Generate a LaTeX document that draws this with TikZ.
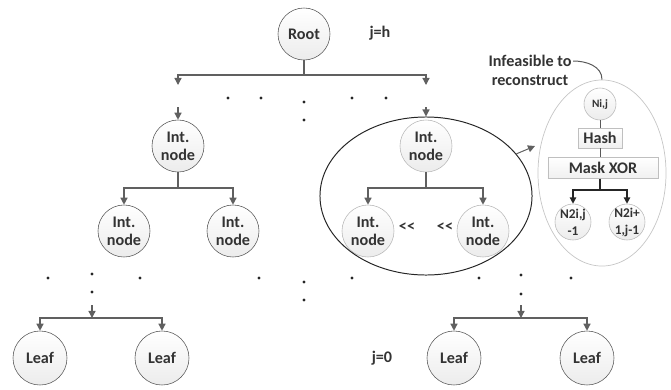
\documentclass[tikz,border=0pt]{standalone}
\usepackage{fontspec}
\setmainfont{Carlito}
\usetikzlibrary{arrows.meta}
\usetikzlibrary{shapes}
\tikzset{tnode/.style={circle,draw=gray!70!black,top color=white,bottom color=gray!15,
   minimum size=1.3cm,inner sep=0pt,align=center,text=black!80,
   font=\fontsize{11.5}{13}\selectfont\bfseries},
 faint/.style={draw=gray!55},
 subnode/.style={tnode,faint,minimum size=0.9cm,inner sep=-2pt,
   font=\fontsize{9.5}{12}\selectfont\bfseries},
 opbox/.style={rectangle,draw=gray!50,top color=white,bottom color=gray!12,
   inner sep=0pt,minimum height=0.5cm,text=black!80,
   font=\fontsize{11.5}{13}\selectfont\bfseries},
 tag/.style={text=black!80,inner sep=1pt,align=center,
   font=\fontsize{11.5}{13.5}\selectfont\bfseries},
 link/.style={draw=gray!75!black,line width=0.9pt},
 arr/.style={link,-{Triangle[length=5pt,width=5pt]}},
 darr/.style={draw=black!85,line width=1pt,-{Triangle[length=4.5pt,width=4.5pt]}},
 gline/.style={draw=gray!70!black,line width=0.7pt},
 }

\begin{document}
\begin{tikzpicture}[x=0.025cm,y=-0.025cm]
    \useasboundingbox (0,0) rectangle (671,389);
    % level h
    \node[tnode] (root) at (304,34) {Root};
    \node[tag] (jh) at (380,33) {j=h};
    \coordinate (barL) at (178,75);
    \coordinate (barR) at (426,75);
    \coordinate (tipL) at (178,85);
    \coordinate (tipR) at (426,85);
    \draw[arr] (root) |- (barL) -- (tipL);
    \draw[arr] (root) |- (barR) -- (tipR);
    % left branch
    \coordinate (inL) at (178,107);
    \coordinate (lvl) at (0,188);
    \node[tnode] (intL) at (178,146) {Int.\\node};
    \node[tnode] (intLa) at (124,231) {Int.\\node};
    \node[tnode] (intLb) at (233,231) {Int.\\node};
    \draw[arr] (inL) -- (intL);
    \draw[arr] (intL) |- (intLa |- lvl) -- (intLa);
    \draw[arr] (intL) |- (intLb |- lvl) -- (intLb);
    % right branch, circled
    \coordinate (inR) at (426,107);
    \node[tnode,faint] (intR) at (426,146) {Int.\\node};
    \node[tnode,faint] (intRa) at (368,231) {Int.\\node};
    \node[tnode,faint] (intRb) at (483,231) {Int.\\node};
    \node[tag] (ltA) at (407,227) {<\kern0pt<};
    \node[tag] (ltB) at (445,227) {<\kern0pt<};
    \draw[arr] (intR) |- (intRa |- lvl) -- (intRa);
    \draw[arr] (intR) |- (intRb |- lvl) -- (intRb);
    \node[ellipse,draw=gray!30!black,line width=0.7pt,minimum width=5.3cm,
        minimum height=3.95cm,inner sep=0pt] (sub) at (426,196) {};
    \draw[arr] (inR) -- (sub);
    % dots
    \fill[black!85] (228,98) circle (1.6) (261,98) circle (1.6) (352,98) circle (1.6)
        (386,98) circle (1.6) (304,102) circle (1.6) (304,120) circle (1.6);
    \fill[black!85] (48,278) circle (1.6) (92,274) circle (1.6) (92,292) circle (1.6)
        (140,278) circle (1.6) (259,278) circle (1.6) (304,282) circle (1.6)
        (304,300) circle (1.6) (352,278) circle (1.6) (479,278) circle (1.6)
        (521,275) circle (1.6) (521,294) circle (1.6) (571,278) circle (1.6);
    % level 0
    \coordinate (upL) at (92,305);
    \coordinate (forkL) at (92,318);
    \coordinate (upR) at (521,305);
    \coordinate (forkR) at (521,318);
    \node[tnode,minimum size=1.35cm] (leafA) at (40,358) {Leaf};
    \node[tnode,minimum size=1.35cm] (leafB) at (162,358) {Leaf};
    \node[tnode,minimum size=1.35cm] (leafC) at (454,358) {Leaf};
    \node[tnode,minimum size=1.35cm] (leafD) at (587,358) {Leaf};
    \node[tag] (j0) at (382,358) {j=0};
    \draw[arr] (upL) -- (forkL);
    \draw[arr] (forkL) -| (leafA);
    \draw[arr] (forkL) -| (leafB);
    \draw[arr] (upR) -- (forkR);
    \draw[arr] (forkR) -| (leafC);
    \draw[arr] (forkR) -| (leafD);
    % zoomed node
    \node[ellipse,draw=gray!45,line width=0.5pt,minimum width=3.2cm,
        minimum height=4.65cm,inner sep=0pt] (zoom) at (602,173) {};
    \node[tnode,faint,minimum size=0.8cm,font=\fontsize{8}{9}\selectfont\bfseries]
        (nij) at (600,104) {Ni,j};
    \node[opbox,minimum width=1.1cm] (hash) at (600,138) {Hash};
    \node[opbox,minimum width=2.75cm,minimum height=0.53cm] (xor) at (603,168) {Mask XOR};
    \node[subnode] (na) at (573,222) {N2i,j\\-1};
    \node[subnode] (nb) at (627,222) {N2i+\\1,j-1};
    \coordinate (lvlz) at (0,190);
    \draw[gline] (nij) -- (hash);
    \draw[gline] (hash) -- (hash |- xor.north);
    \draw[darr] (xor.south -| hash) |- (na |- lvlz) -- (na);
    \draw[darr] (xor.south -| hash) |- (nb |- lvlz) -- (nb);
    \coordinate (gap) at (535,146);
    \draw[arr,line width=0.7pt] (sub.25) -- (gap);
    \node[tag] (info) at (530,70) {Infeasible to\\reconstruct};
    \draw[gline] (info.east) ++(0,-9) to[out=0,in=90] (zoom.north);
\end{tikzpicture}
\end{document}
